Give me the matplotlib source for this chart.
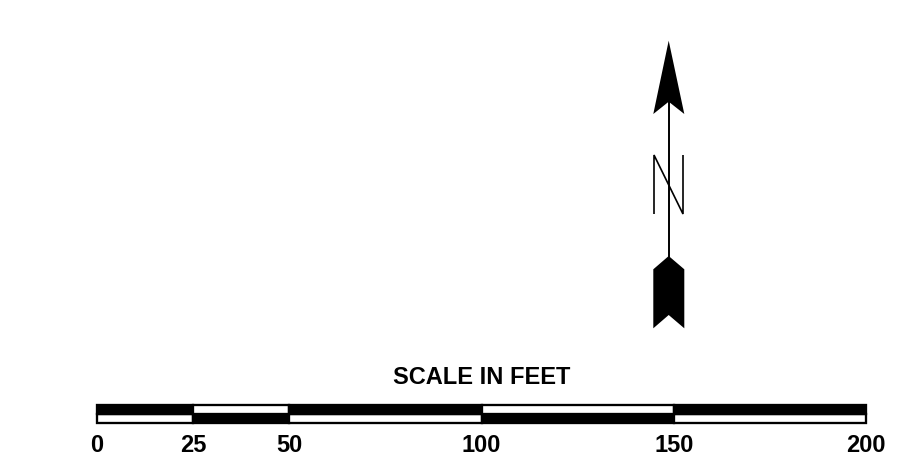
import matplotlib
matplotlib.use("Agg")
import matplotlib.pyplot as plt
from matplotlib.patches import Polygon

W, H = 900, 463
TEXT_COLOR = "#000000"

# Scale bar data (feet)
segment_starts = [0, 25, 50, 100, 150]
segment_widths = [25, 25, 50, 50, 50]
top_colors = ["black", "white", "black", "white", "black"]
bottom_colors = ["white", "black", "white", "black", "white"]
tick_values = [0, 25, 50, 100, 150, 200]
tick_labels = ["0", "25", "50", "100", "150", "200"]
scale_title = "SCALE IN FEET"

# North arrow outline (pixel space)
head_x = [668.7, 684.3, 668.7, 653.3]
head_y = [40.7, 114, 101.7, 114]
tail_x = [668.7, 684.3, 684.3, 668.7, 653.3, 653.3]
tail_y = [256, 269.3, 328.3, 315, 328.3, 269.3]
shaft_x = [668.7, 668.7]
shaft_y = [101, 257]
n_x = [654, 654, 683, 683]
n_y = [214, 155, 214, 155]

fig = plt.figure(figsize=(W / 100, H / 100), dpi=100, facecolor="white")

# Pixel-space axes for the north arrow
ap = fig.add_axes([0, 0, 1, 1])
ap.set_xlim(0, W)
ap.set_ylim(H, 0)
ap.axis("off")
ap.add_patch(Polygon(list(zip(head_x, head_y)), closed=True, fc="black", ec="none"))
ap.add_patch(Polygon(list(zip(tail_x, tail_y)), closed=True, fc="black", ec="none"))
ap.plot(shaft_x, shaft_y, color="black", lw=1.4, solid_capstyle="butt")
ap.plot(n_x, n_y, color="black", lw=1.2, solid_capstyle="butt", solid_joinstyle="miter")

# Feet-scaled axes for the scale bar
px_per_ft = 769 / 200
a = fig.add_axes([0, 0, 1, 1])
a.patch.set_alpha(0)
a.set_xlim(-97 / px_per_ft, (W - 97) / px_per_ft)
a.set_ylim(H, 0)
a.axis("off")
a.barh([418.5] * 5, segment_widths, left=segment_starts, height=9.4,
       color=bottom_colors, edgecolor="black", linewidth=1.66)
a.barh([409.2] * 5, segment_widths, left=segment_starts, height=9.4,
       color=top_colors, edgecolor="black", linewidth=1.66)

font = dict(family=["Liberation Sans", "DejaVu Sans"], fontweight="bold",
            fontsize=17, color=TEXT_COLOR)
for v, lab in zip(tick_values, tick_labels):
    a.text(v, 445.5, lab, ha="center", va="center", **font)
a.text(100, 377.5, scale_title, ha="center", va="center", **font)

fig.savefig("out.png", dpi=100, facecolor="white")
